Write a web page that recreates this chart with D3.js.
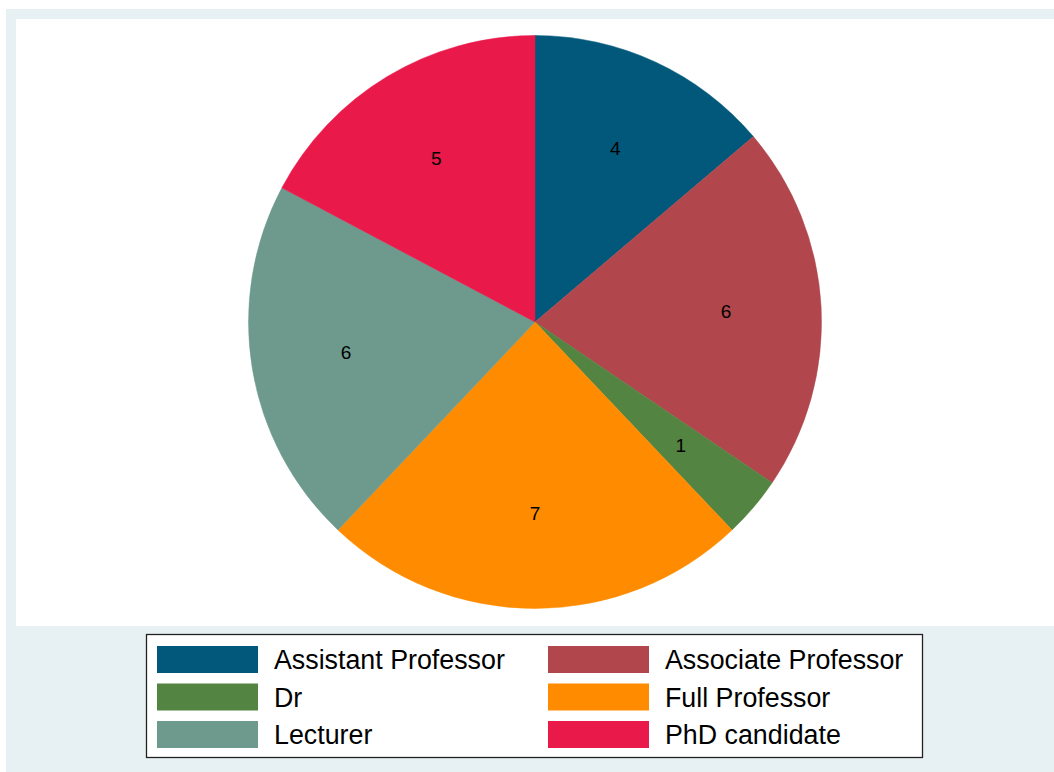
<!DOCTYPE html>
<html><head><meta charset="utf-8">
<script src="https://cdn.jsdelivr.net/npm/d3@7"></script>
<style>html,body{margin:0;padding:0;background:#fff;}svg{display:block;}</style>
</head><body>
<svg id="chart" width="1054" height="772"></svg>
<script>
const categories = ["Assistant Professor","Associate Professor","Dr","Full Professor","Lecturer","PhD candidate"];
const values = [4, 6, 1, 7, 6, 5];
const colors = ["#02587A","#B1474D","#548441","#FF8C00","#6E9A8E","#E9194A"];

const svg = d3.select("#chart");
const font = "'Liberation Sans', Arial, Helvetica, sans-serif";

// outer background and plot region
svg.append("rect").attr("x",6).attr("y",9).attr("width",1048).attr("height",763).attr("fill","#E7F0F3");
svg.append("rect").attr("x",16).attr("y",19).attr("width",1038).attr("height",607).attr("fill","#FFFFFF");

const cx = 535, cy = 322, R = 286.5;
const data = categories.map((c,i)=>({cat:c, value:values[i], color:colors[i]}));
const pie = d3.pie().value(d=>d.value).sort(null).startAngle(0).endAngle(2*Math.PI);
const arc = d3.arc().innerRadius(0).outerRadius(R);
const labelArc = d3.arc().innerRadius(R*0.668).outerRadius(R*0.668);
const arcs = pie(data);

const g = svg.append("g").attr("transform",`translate(${cx},${cy})`);
g.selectAll("path").data(arcs).join("path")
  .attr("d",arc).attr("fill",d=>d.data.color)
  .attr("stroke",d=>d.data.color).attr("stroke-width",0.5);
g.selectAll("text").data(arcs).join("text")
  .attr("transform",d=>`translate(${labelArc.centroid(d)})`)
  .attr("text-anchor","middle").attr("dominant-baseline","central")
  .attr("font-family",font).attr("font-size",19).attr("fill","#000")
  .text(d=>d.data.value);

// legend
const lg = svg.append("g");
lg.append("rect").attr("x",146.5).attr("y",634.5).attr("width",776).attr("height",123)
  .attr("fill","#fff").attr("stroke","#222").attr("stroke-width",1.3);
const colX = [157, 548], rowY = [646, 683.5, 721];
data.forEach((d,i)=>{
  const col = i%2, row = Math.floor(i/2);
  lg.append("rect").attr("x",colX[col]).attr("y",rowY[row]).attr("width",101).attr("height",27).attr("fill",d.color);
  lg.append("text").attr("x",colX[col]+117).attr("y",rowY[row]+23)
    .attr("font-family",font).attr("font-size",26.8).attr("fill","#000").text(d.cat);
});
</script>
</body></html>
